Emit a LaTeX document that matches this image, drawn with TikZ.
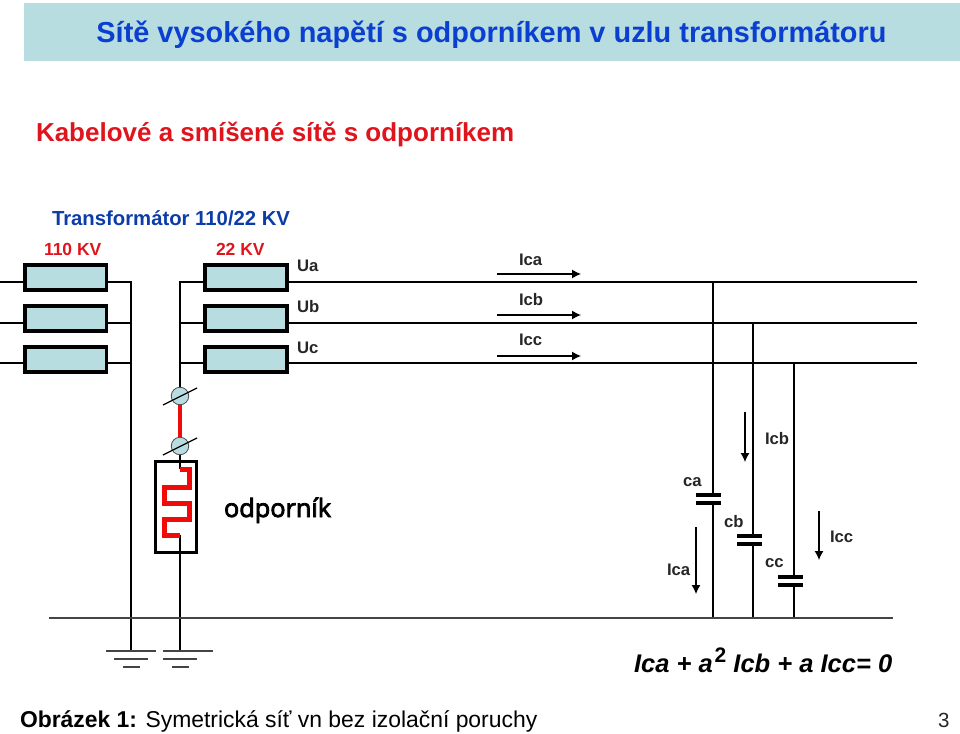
\documentclass[tikz,border=0pt]{standalone}
\usepackage{fontspec}
\setmainfont{Liberation Sans}
\newfontfamily\odpfont{Open Sans}
\usetikzlibrary{arrows.meta}
\definecolor{paleteal}{HTML}{B8DDE1}
\definecolor{titleblue}{HTML}{0B3FD0}
\definecolor{subblue}{HTML}{0B3CA8}
\definecolor{redtxt}{HTML}{E0141C}
\definecolor{redwire}{HTML}{F00A0A}
\definecolor{groundgray}{HTML}{444444}
\tikzset{
  coil/.style={draw=black,line width=3.6pt,fill=paleteal,minimum width=81.5pt,minimum height=25pt,inner sep=0pt,outer sep=0pt},
  wire/.style={line width=2.6pt,black},
  thin wire/.style={line width=2pt,black},
  txt/.style={inner sep=0pt,outer sep=0pt,anchor=base west,font=\fontsize{16.7}{18}\selectfont\bfseries,text=black!85},
  redlab/.style={txt,text=redtxt,font=\fontsize{17.5}{18}\selectfont\bfseries},
  flow/.style={line width=1.2pt,black,-{Latex[length=9pt,width=9pt]}},
  plate/.style={line width=3.6pt,black},
  meter/.style={circle,draw=black!70,line width=0.8pt,fill=paleteal,minimum size=17.5pt,inner sep=0pt,outer sep=0pt},
  slash/.style={line width=1.2pt,black},
  redline/.style={line width=4pt,redwire,line join=miter},
  gnd/.style={line width=1.3pt,groundgray}
}
\begin{document}
\begin{tikzpicture}[x=1pt,y=-1pt]
\useasboundingbox (0,0) rectangle (960,733);
\node[fill=paleteal,minimum width=936pt,minimum height=58pt,inner sep=0pt,anchor=north west] (banner) at (24,3) {};
\node[txt,anchor=base,text=titleblue,font=\fontsize{28.9}{32}\selectfont\bfseries] (title) at (491.5,43) {Sítě vysokého napětí s odporníkem v uzlu transformátoru};
\node[txt,text=redtxt,font=\fontsize{26}{30}\selectfont\bfseries] (sub) at (36,141) {Kabelové a smíšené sítě s odporníkem};
\node[txt,text=subblue,font=\fontsize{20.3}{24}\selectfont\bfseries] (trafo) at (52,225) {Transformátor 110/22 KV};
\node[redlab] (kv110) at (44,255) {110 KV};
\node[redlab] (kv22) at (216,255) {22 KV};

% coordinates
\coordinate (inA) at (0,282); \coordinate (inB) at (0,323); \coordinate (inC) at (0,363);
\coordinate (primA) at (131,282); \coordinate (primB) at (131,323); \coordinate (primC) at (131,363);
\coordinate (secA) at (180,282); \coordinate (secB) at (180,323); \coordinate (secC) at (180,363);
\coordinate (outA) at (917,282); \coordinate (outB) at (917,323); \coordinate (outC) at (917,363);
\coordinate (pcoilA) at (108,282); \coordinate (pcoilB) at (108,323); \coordinate (pcoilC) at (108,363);
\coordinate (pinA) at (23,282); \coordinate (pinB) at (23,323); \coordinate (pinC) at (23,363);
\coordinate (scoilA) at (203,282); \coordinate (scoilB) at (203,323); \coordinate (scoilC) at (203,363);
\coordinate (soutA) at (288,282); \coordinate (soutB) at (288,323); \coordinate (soutC) at (288,363);
\coordinate (gndA) at (131,651); \coordinate (gndB) at (180,651);

\draw[wire] (inA) -- (pinA); \draw[wire] (inB) -- (pinB); \draw[wire] (inC) -- (pinC);
\draw[wire] (pcoilA) -- (primA); \draw[wire] (pcoilB) -- (primB); \draw[wire] (pcoilC) -- (primC);
\draw[wire] (secA) -- (scoilA); \draw[wire] (secB) -- (scoilB); \draw[wire] (secC) -- (scoilC);
\draw[wire] (soutA) -- (outA); \draw[wire] (soutB) -- (outB); \draw[wire] (soutC) -- (outC);
\draw[wire,line cap=rect] (primA) -- (gndA);

% coils
\node[coil] (pa) at (65.8,277.5) {};
\node[coil] (pb) at (65.8,318.5) {};
\node[coil] (pc) at (65.8,359.5) {};
\node[coil] (sa) at (246,277.5) {};
\node[coil] (sb) at (246,318.5) {};
\node[coil] (sc) at (246,359.5) {};

% star point, meters, resistor
\coordinate (mid1) at (180,396);
\coordinate (mid2) at (180,446);
\coordinate (rtop) at (180,469);
\coordinate (rbot) at (180,535);
\draw[thin wire,line cap=rect] (secA) -- (mid1);
\draw[redline] (mid1) -- (mid2);
\draw[thin wire,line width=2.4pt] (mid2) -- (rtop);
\draw[thin wire,line width=2.4pt] (rbot) -- (gndB);
\node[meter] (m1) at (mid1) {};
\node[meter] (m2) at (mid2) {};
\coordinate (s1a) at (163,405); \coordinate (s1b) at (197,388);
\coordinate (s2a) at (163,455); \coordinate (s2b) at (197,438);
\draw[slash] (s1a) -- (s1b);
\draw[slash] (s2a) -- (s2b);
\node[draw=black,line width=3.6pt,minimum width=41pt,minimum height=91pt,inner sep=0pt,outer sep=0pt] (rbox) at (176,507) {};
\draw[redline,line width=5pt] (rtop) -- (189,469) -- (189,487) -- (164,487) -- (164,503) -- (189,503) -- (189,519) -- (164,519) -- (164,535) -- (rbot);
\node[txt,font=\fontsize{25.3}{28}\odpfont\selectfont,text=black] (odp) at (224,517) {\special{pdf:code 2 Tr 0.8 w}odporník\special{pdf:code 0 Tr 1 w}};

% labels U
\node[txt] (ua) at (297,271) {Ua};
\node[txt] (ub) at (297,312) {Ub};
\node[txt] (uc) at (297,353) {Uc};
\node[txt] (lica) at (519,265) {Ica};
\node[txt] (licb) at (519,305) {Icb};
\node[txt] (licc) at (519,345) {Icc};
\coordinate (fa0) at (497,274); \coordinate (fa1) at (581,274);
\coordinate (fb0) at (497,315); \coordinate (fb1) at (581,315);
\coordinate (fc0) at (497,356); \coordinate (fc1) at (581,356);
\draw[flow] (fa0) -- (fa1);
\draw[flow] (fb0) -- (fb1);
\draw[flow] (fc0) -- (fc1);

% capacitors
\coordinate (ca0) at (713,282); \coordinate (ca1) at (713,495); \coordinate (ca2) at (713,503); \coordinate (ca3) at (713,618);
\coordinate (cb0) at (753,323); \coordinate (cb1) at (753,536); \coordinate (cb2) at (753,544); \coordinate (cb3) at (753,618);
\coordinate (cc0) at (794,363); \coordinate (cc1) at (794,577); \coordinate (cc2) at (794,585); \coordinate (cc3) at (794,618);
\draw[thin wire,line width=2.2pt] (ca0) -- (ca1); \draw[thin wire,line width=2.2pt] (ca2) -- (ca3);
\draw[thin wire,line width=2.2pt] (cb0) -- (cb1); \draw[thin wire,line width=2.2pt] (cb2) -- (cb3);
\draw[thin wire,line width=2.2pt] (cc0) -- (cc1); \draw[thin wire,line width=2.2pt] (cc2) -- (cc3);
\coordinate (pa1l) at (696,495); \coordinate (pa1r) at (721,495);
\coordinate (pa2l) at (696,503); \coordinate (pa2r) at (721,503);
\coordinate (pb1l) at (737,536); \coordinate (pb1r) at (762,536);
\coordinate (pb2l) at (737,544); \coordinate (pb2r) at (762,544);
\coordinate (pc1l) at (778,577); \coordinate (pc1r) at (803,577);
\coordinate (pc2l) at (778,585); \coordinate (pc2r) at (803,585);
\draw[plate,line width=4pt] (pa1l) -- (pa1r); \draw[plate,line width=4pt] (pa2l) -- (pa2r);
\draw[plate,line width=4pt] (pb1l) -- (pb1r); \draw[plate,line width=4pt] (pb2l) -- (pb2r);
\draw[plate,line width=4pt] (pc1l) -- (pc1r); \draw[plate,line width=4pt] (pc2l) -- (pc2r);
\node[txt] (lca) at (683,486) {ca};
\node[txt] (lcb) at (724,527) {cb};
\node[txt] (lcc) at (765,567) {cc};
\node[txt] (dica) at (667,575) {Ica};
\node[txt] (dicb) at (765,444) {Icb};
\node[txt] (dicc) at (830,542) {Icc};
\coordinate (da0) at (696,527); \coordinate (da1) at (696,594);
\coordinate (db0) at (745,412); \coordinate (db1) at (745,462);
\coordinate (dc0) at (819,511); \coordinate (dc1) at (819,560);
\draw[flow] (da0) -- (da1);
\draw[flow] (db0) -- (db1);
\draw[flow] (dc0) -- (dc1);

% earth
\coordinate (e0) at (49,618); \coordinate (e1) at (893,618);
\draw[line width=1.6pt,groundgray] (e0) -- (e1);
\coordinate (g1a) at (106,651); \coordinate (g1b) at (156,651);
\coordinate (g2a) at (114,659); \coordinate (g2b) at (148,659);
\coordinate (g3a) at (123,667); \coordinate (g3b) at (140,667);
\coordinate (h1a) at (163,651); \coordinate (h1b) at (213,651);
\coordinate (h2a) at (163,659); \coordinate (h2b) at (197,659);
\coordinate (h3a) at (172,667); \coordinate (h3b) at (189,667);
\draw[gnd] (g1a) -- (g1b); \draw[gnd] (g2a) -- (g2b); \draw[gnd] (g3a) -- (g3b);
\draw[gnd] (h1a) -- (h1b); \draw[gnd] (h2a) -- (h2b); \draw[gnd] (h3a) -- (h3b);

% formula and caption
\node[txt,text=black,font=\fontsize{25.5}{28}\selectfont\bfseries\itshape] (formula) at (634,672) {Ica + a\kern2pt\raisebox{10pt}{\fontsize{21}{22}\selectfont\upshape 2} Icb + a Icc= 0};
\node[txt,text=black,font=\fontsize{22.9}{28}\selectfont] (cap) at (20,727) {\textbf{Obrázek 1:} Symetrická síť vn bez izolační poruchy};
\node[txt,text=black!85,font=\fontsize{20.5}{24}\selectfont\mdseries] (pg) at (938,727) {3};
\end{tikzpicture}
\end{document}
